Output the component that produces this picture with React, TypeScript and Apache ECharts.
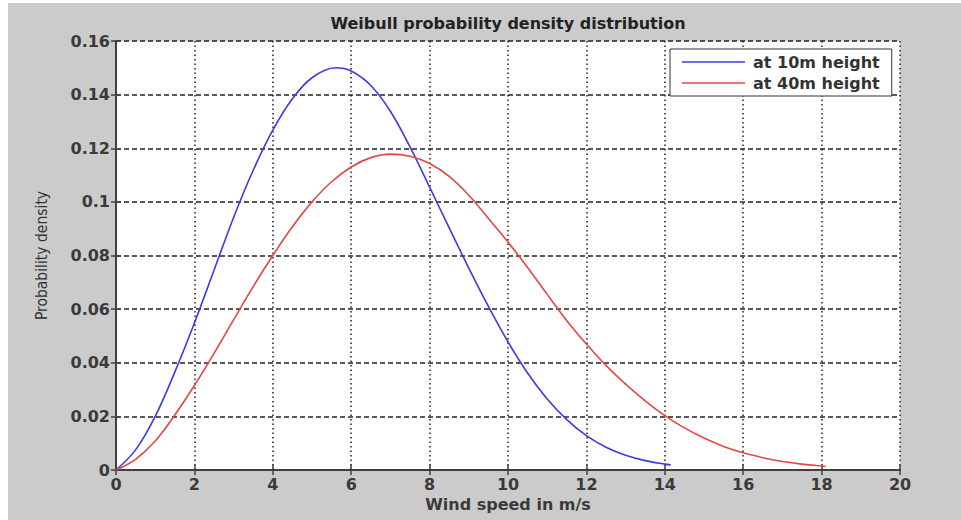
import React, { useEffect, useRef } from "react";
import * as echarts from "echarts";

const titleText = "Weibull probability density distribution";
const xAxisName = "Wind speed in m/s";
const yAxisName = "Probability density";
const seriesNames = ["at 10m height", "at 40m height"];

const speed10 = [0, 0.5, 1, 1.5, 2, 2.5, 3, 3.5, 4, 4.5, 5, 5.6, 6, 6.5, 7, 7.5, 8, 8.5, 9, 9.5, 10, 10.5, 11, 11.5, 12, 12.5, 13, 13.5, 14, 14.15];
const density10 = [0, 0.0075, 0.02, 0.0365, 0.0548, 0.0745, 0.0942, 0.1118, 0.1268, 0.1385, 0.1463, 0.15, 0.1488, 0.1434, 0.1338, 0.1205, 0.1055, 0.0903, 0.0753, 0.061, 0.0478, 0.0362, 0.0265, 0.0188, 0.0128, 0.0085, 0.0055, 0.0035, 0.0022, 0.0019];

const speed40 = [0, 0.5, 1, 1.5, 2, 2.5, 3, 3.5, 4, 4.5, 5, 5.5, 6, 6.5, 7, 7.5, 8, 8.5, 9, 9.5, 10, 10.5, 11, 11.5, 12, 12.5, 13, 13.5, 14, 14.5, 15, 15.5, 16, 16.5, 17, 17.5, 18, 18.1];
const density40 = [0, 0.004, 0.0108, 0.0205, 0.0315, 0.0435, 0.056, 0.0684, 0.08, 0.0907, 0.1, 0.1075, 0.113, 0.1165, 0.1178, 0.117, 0.1143, 0.1095, 0.1025, 0.0938, 0.085, 0.0755, 0.0655, 0.0557, 0.047, 0.039, 0.032, 0.0258, 0.0203, 0.0157, 0.0119, 0.0088, 0.0064, 0.0046, 0.0032, 0.0022, 0.0015, 0.0014];

const xTicks = { min: 0, max: 20, interval: 2 };
const yTicks = { min: 0, max: 0.16, interval: 0.02 };

const FONT = "'DejaVu Sans', sans-serif";
const LABEL_COLOR = "#3a3a3a";
const FRAME_COLOR = "#404040";

export default function App() {
  const ref = useRef<HTMLDivElement>(null);

  useEffect(() => {
    document.body.style.margin = "0";
    if (!ref.current) return;
    const chart = echarts.init(ref.current, undefined, { renderer: "svg" });
    const axisLine = { show: true, lineStyle: { color: FRAME_COLOR, width: 2 } };
    const tick = { show: true, inside: true, length: 5, lineStyle: { color: FRAME_COLOR, width: 1.5 } };
    const labelStyle = { color: LABEL_COLOR, fontFamily: FONT, fontWeight: "bold" as const, fontSize: 16 };
    const fmtY = (v: number) => (v === 0 ? "0" : String(Number(v.toFixed(2))));

    chart.setOption({
      animation: false,
      backgroundColor: "transparent",
      title: {
        text: titleText,
        left: 508,
        top: 15,
        textAlign: "center",
        padding: 0,
        textStyle: { color: "#222", fontFamily: FONT, fontWeight: "bold", fontSize: 16 },
      },
      legend: {
        orient: "vertical",
        left: 670,
        top: 49,
        padding: [5, 12, 5, 12],
        icon: "rect",
        itemWidth: 63,
        itemHeight: 1.6,
        itemGap: 5,
        backgroundColor: "#fff",
        borderColor: "#333",
        borderWidth: 1,
        textStyle: {
          color: "#333",
          fontFamily: FONT,
          fontWeight: "bold",
          fontSize: 16,
          lineHeight: 16,
          padding: [0, 0, 0, 3],
        },
        data: seriesNames,
      },
      grid: {
        left: 116,
        top: 41,
        right: 61,
        bottom: 50,
        show: true,
        backgroundColor: "#ffffff",
        borderWidth: 0,
      },
      xAxis: [
        {
          type: "value",
          position: "bottom",
          ...xTicks,
          name: xAxisName,
          nameLocation: "middle",
          nameGap: 23,
          nameTextStyle: { color: LABEL_COLOR, fontFamily: FONT, fontWeight: "bold", fontSize: 16 },
          axisLine,
          axisTick: tick,
          axisLabel: { ...labelStyle, margin: 6 },
          splitLine: { show: true, lineStyle: { color: "#222", width: 1.5, type: [1.5, 3] } },
        },
        {
          type: "value",
          position: "top",
          ...xTicks,
          axisLine,
          axisTick: tick,
          axisLabel: { show: false },
          splitLine: { show: false },
        },
      ],
      yAxis: [
        {
          type: "value",
          position: "left",
          ...yTicks,
          name: yAxisName,
          nameLocation: "middle",
          nameGap: 66,
          nameTextStyle: {
            color: "#333",
            fontFamily: "'Liberation Sans Narrow', 'DejaVu Sans Condensed', sans-serif",
            fontSize: 15.5,
          },
          axisLine,
          axisTick: tick,
          axisLabel: { ...labelStyle, margin: 6, formatter: fmtY },
          splitLine: { show: true, lineStyle: { color: "#222", width: 1.5, type: [5, 3] } },
        },
        {
          type: "value",
          position: "right",
          ...yTicks,
          axisLine,
          axisTick: tick,
          axisLabel: { show: false },
          splitLine: { show: false },
        },
      ],
      series: [
        {
          name: seriesNames[0],
          type: "line",
          symbol: "none",
          smooth: 0.35,
          color: "#3b3be6",
          lineStyle: { color: "#3b3be6", width: 1.6 },
          data: speed10.map((x, i) => [x, density10[i]]),
          z: 5,
        },
        {
          name: seriesNames[1],
          type: "line",
          symbol: "none",
          smooth: 0.35,
          color: "#e84545",
          lineStyle: { color: "#e84545", width: 1.6 },
          data: speed40.map((x, i) => [x, density40[i]]),
          z: 5,
        },
      ],
    });
    return () => chart.dispose();
  }, []);

  return (
    <div style={{ position: "fixed", left: 0, top: 0, width: 961, height: 520, background: "#ffffff" }}>
      <div style={{ position: "absolute", left: 8, top: 3, width: 953, height: 517, background: "#cbcbcb" }} />
      <div ref={ref} style={{ position: "absolute", left: 0, top: 0, width: 961, height: 520 }} />
    </div>
  );
}
